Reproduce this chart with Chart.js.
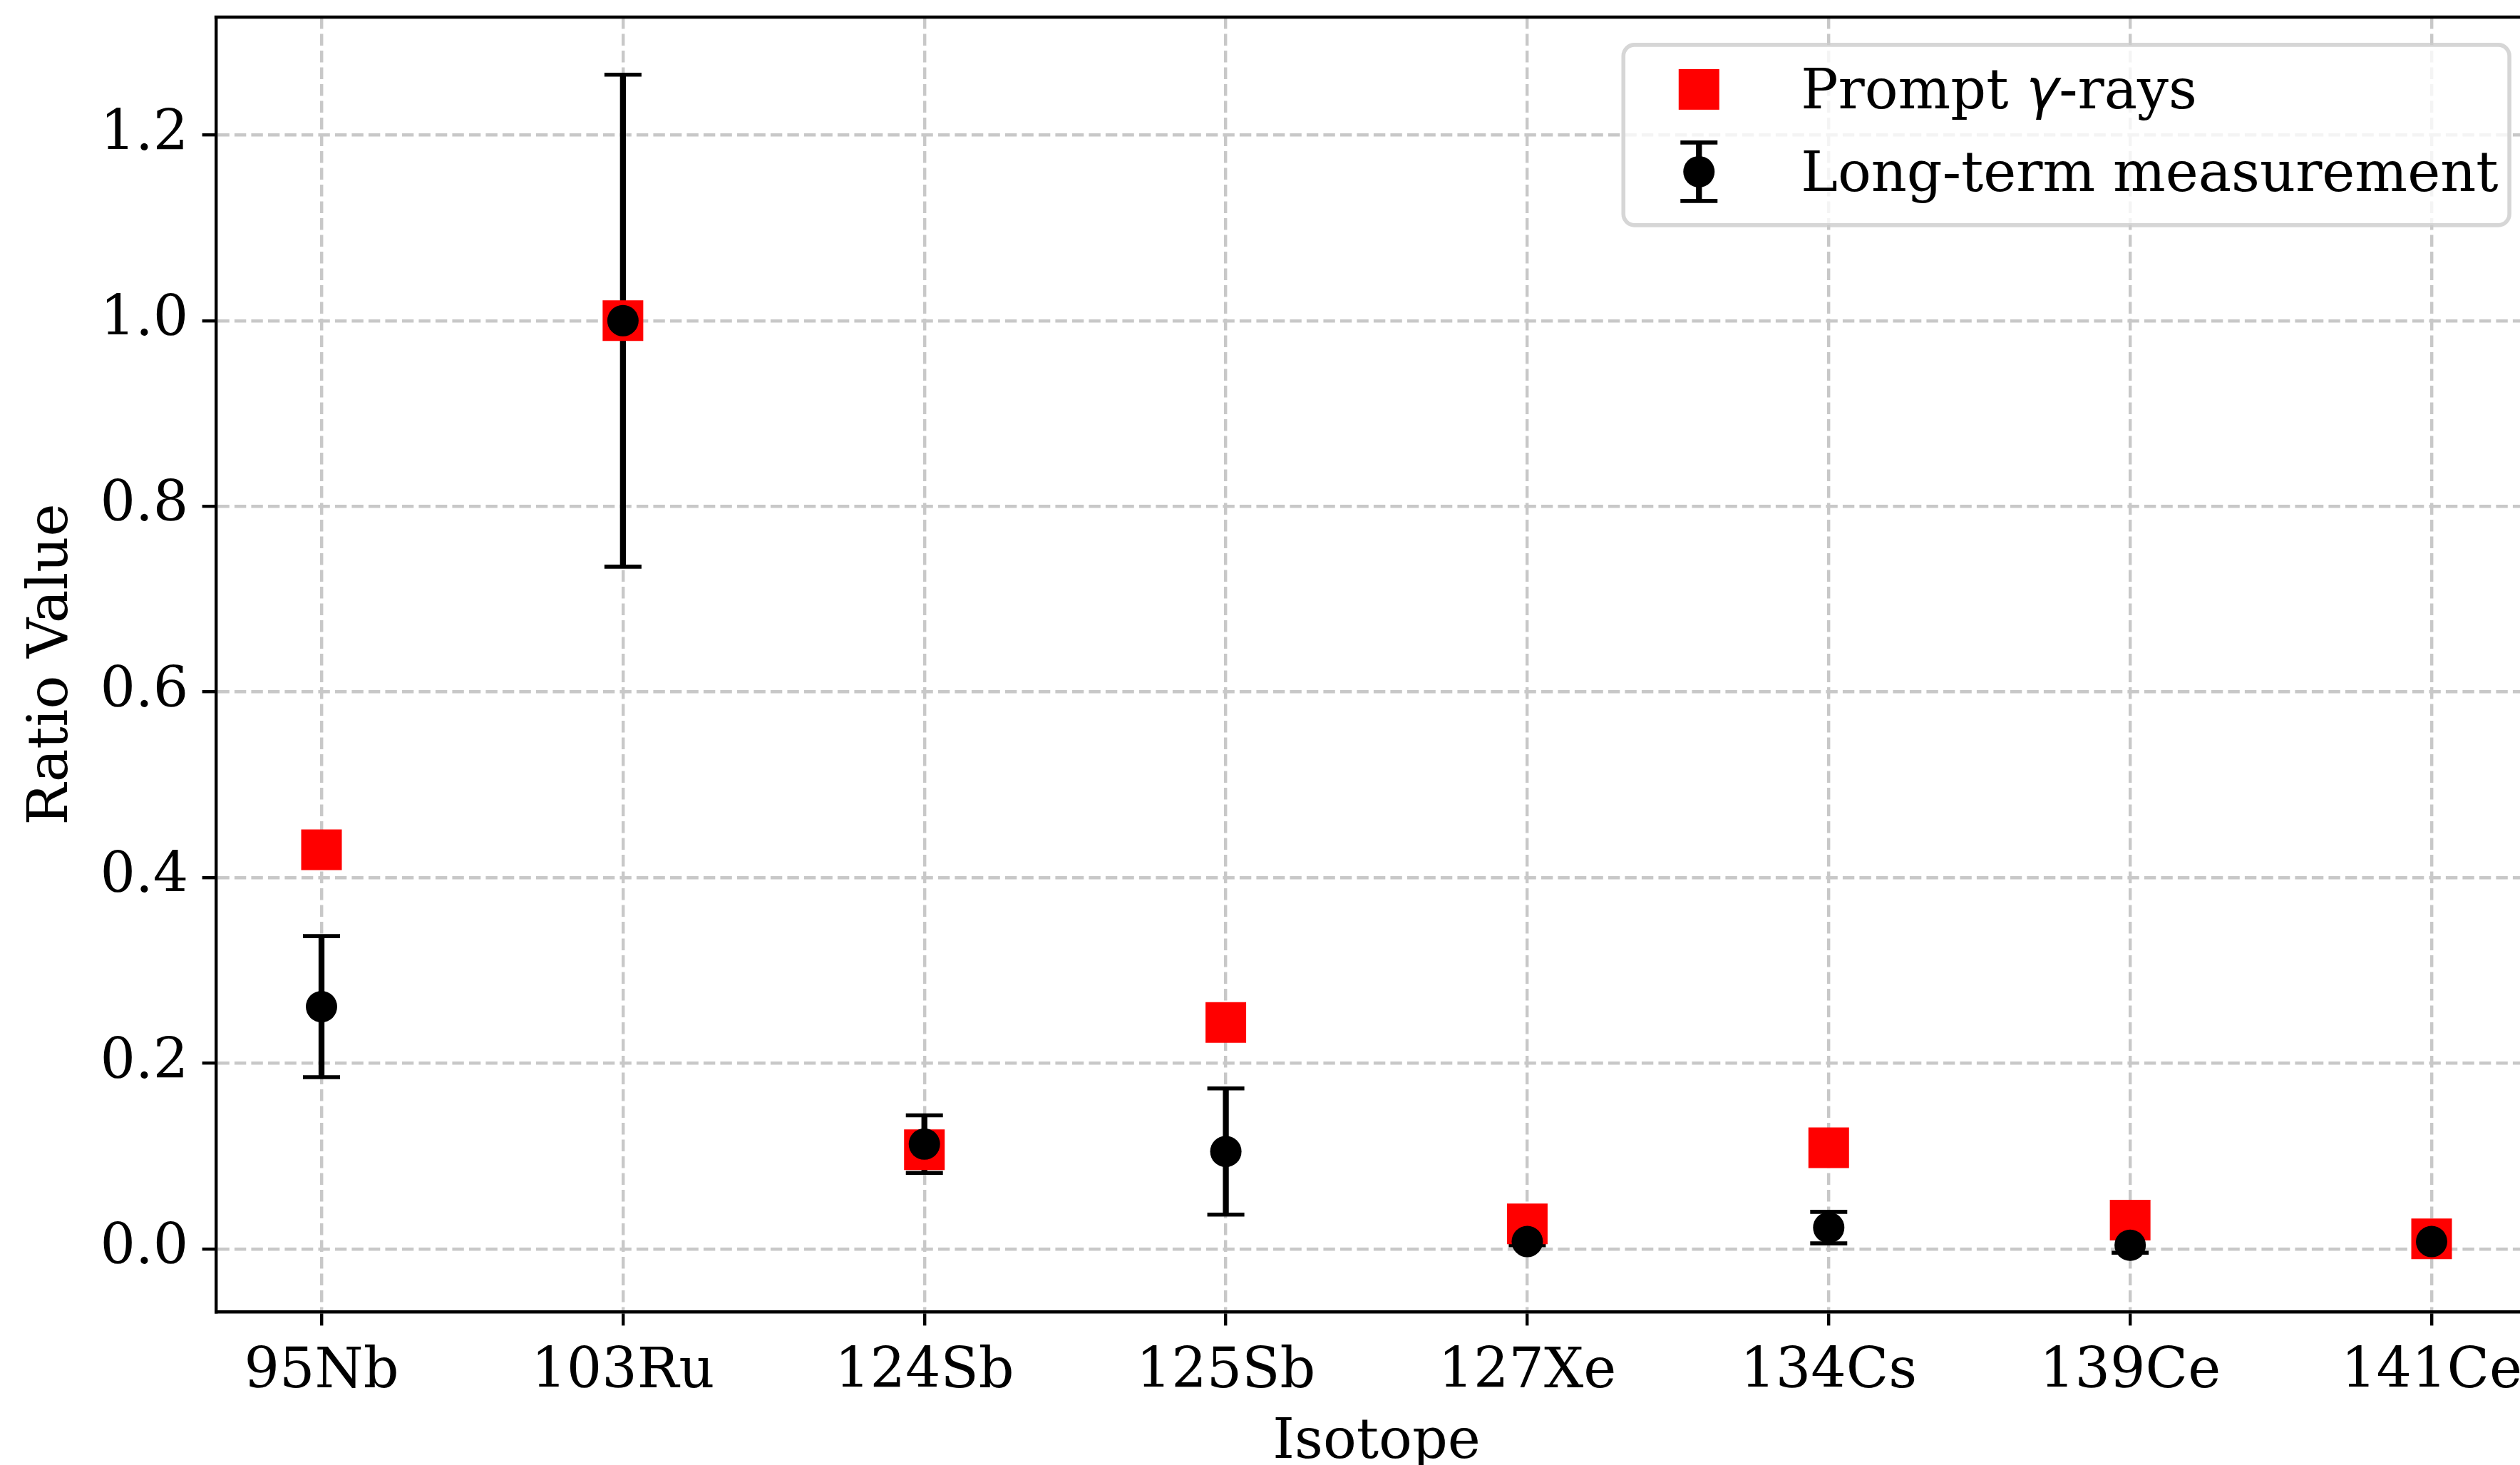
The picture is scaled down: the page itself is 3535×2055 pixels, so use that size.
<!DOCTYPE html>
<html>
<head>
<meta charset="utf-8">
<title>Isotope ratios</title>
<script src="https://cdn.jsdelivr.net/npm/chart.js@4.4.1/dist/chart.umd.min.js"></script>
<style>
  html, body { margin: 0; padding: 0; background: #fff; overflow: hidden; }
  canvas { display: block; }
</style>
</head>
<body>
<canvas class="my-chart" width="3600" height="2055"></canvas>
<script>
const myChart = document.querySelector(".my-chart");

// ratio values per isotope
const isotopes = ["95Nb", "103Ru", "124Sb", "125Sb", "127Xe", "134Cs", "139Ce", "141Ce"];
const promptValues = [0.43, 1.0, 0.107, 0.244, 0.027, 0.109, 0.031, 0.011];
const longTermValues = [0.261, 1.0, 0.113, 0.105, 0.008, 0.023, 0.004, 0.008];
const longTermErrors = [0.076, 0.265, 0.031, 0.068, 0.004, 0.017, 0.008, 0.006];
const yTicks = [0.0, 0.2, 0.4, 0.6, 0.8, 1.0, 1.2];

const FS = 77.8; // 14pt at 400 dpi
const LW = 4.4; // 0.8pt
const SERIF = "'DejaVu Serif', serif";

Chart.defaults.font.family = SERIF;
Chart.defaults.font.size = FS;
Chart.defaults.color = "#000";

//draws the error bars under the markers
const errorBars = {
  id: "errorBars",
  beforeDatasetsDraw(chart) {
    const { ctx, scales } = chart;
    ctx.save();
    ctx.strokeStyle = "#000";
    longTermValues.forEach((v, i) => {
      const px = scales.x.getPixelForValue(i);
      const top = scales.y.getPixelForValue(v + longTermErrors[i]);
      const bottom = scales.y.getPixelForValue(v - longTermErrors[i]);
      ctx.lineWidth = 8.3;
      ctx.beginPath();
      ctx.moveTo(px, top);
      ctx.lineTo(px, bottom);
      ctx.stroke();
      ctx.lineWidth = 5.6;
      ctx.beginPath();
      ctx.moveTo(px - 26, top);
      ctx.lineTo(px + 26, top);
      ctx.moveTo(px - 26, bottom);
      ctx.lineTo(px + 26, bottom);
      ctx.stroke();
    });
    ctx.restore();
  },
};

//top/right frame and the legend in the upper right corner
const frameAndLegend = {
  id: "frameAndLegend",
  afterDraw(chart) {
    const { ctx, chartArea } = chart;
    ctx.save();
    ctx.strokeStyle = "#000";
    ctx.lineWidth = LW;
    ctx.beginPath();
    ctx.moveTo(chartArea.left - LW / 2, chartArea.top);
    ctx.lineTo(chartArea.right, chartArea.top);
    ctx.lineTo(chartArea.right, chartArea.bottom);
    ctx.stroke();

    const labels = chart.data.datasets.map((d) => d.label);
    ctx.font = `${FS}px ${SERIF}`;
    const textW = Math.max(...labels.map((l) => ctx.measureText(l).width));
    const w = textW + 3.4 * FS;
    const h = 253;
    const right = chartArea.right - 0.5 * FS;
    const top = chartArea.top + 0.5 * FS;
    const left = right - w;

    ctx.beginPath();
    ctx.roundRect(left, top, w, h, 0.2 * FS);
    ctx.fillStyle = "rgba(255,255,255,0.8)";
    ctx.fill();
    ctx.strokeStyle = "rgba(204,204,204,0.8)";
    ctx.lineWidth = 5.6;
    ctx.stroke();

    const hx = left + 106;
    const tx = left + 3.2 * FS;

    // row 1: red square
    let ry = top + 62.5;
    ctx.fillStyle = "#ff0000";
    ctx.fillRect(hx - 28.5, ry - 28.5, 57, 57);
    drawLabel(ctx, labels[0], tx, ry + 27);

    // row 2: point with error bar
    ry += 115.5;
    ctx.strokeStyle = "#000";
    ctx.lineWidth = 8.3;
    ctx.beginPath();
    ctx.moveTo(hx, ry - 41);
    ctx.lineTo(hx, ry + 41);
    ctx.stroke();
    ctx.lineWidth = 5.6;
    ctx.beginPath();
    ctx.moveTo(hx - 26, ry - 41);
    ctx.lineTo(hx + 26, ry - 41);
    ctx.moveTo(hx - 26, ry + 41);
    ctx.lineTo(hx + 26, ry + 41);
    ctx.stroke();
    ctx.fillStyle = "#000";
    ctx.beginPath();
    ctx.arc(hx, ry, 22, 0, Math.PI * 2);
    ctx.fill();
    drawLabel(ctx, labels[1], tx, ry + 27);
    ctx.restore();
  },
};

// label text, with the greek letter set in italic
function drawLabel(ctx, text, x, baseline) {
  ctx.fillStyle = "#000";
  ctx.textBaseline = "alphabetic";
  ctx.textAlign = "left";
  const parts = text.split(/(γ)/);
  parts.forEach((p) => {
    ctx.font = p === "γ" ? `italic ${FS}px 'DejaVu Sans', sans-serif` : `${FS}px ${SERIF}`;
    ctx.fillText(p, x, baseline);
    x += ctx.measureText(p).width;
  });
}

const gridStyle = {
  color: "#c8c8c8",
  lineWidth: LW,
  tickLength: 19.4,
  tickColor: "#000",
  tickWidth: LW,
  tickBorderDash: [],
};

const mychart = new Chart(myChart, {
  type: "scatter",
  data: {
    datasets: [
      {
        label: "Prompt γ-rays",
        data: promptValues.map((v, i) => ({ x: i, y: v })),
        pointStyle: "rect",
        pointRadius: 40.3,
        backgroundColor: "#ff0000",
        borderWidth: 0,
        order: 2,
      },
      {
        label: "Long-term measurement",
        data: longTermValues.map((v, i) => ({ x: i, y: v })),
        pointStyle: "circle",
        pointRadius: 22,
        backgroundColor: "#000",
        borderWidth: 0,
        order: 1,
      },
    ],
  },
  options: {
    responsive: false,
    animation: false,
    devicePixelRatio: 1,
    events: [],
    layout: { autoPadding: false, padding: { top: 24, right: 41, left: 0, bottom: 0 } },
    plugins: {
      legend: { display: false },
      tooltip: { enabled: false },
    },
    scales: {
      x: {
        type: "linear",
        min: -0.35,
        max: isotopes.length - 1 + 0.35,
        afterBuildTicks: (scale) => {
          scale.ticks = isotopes.map((_, i) => ({ value: i }));
        },
        afterFit: (scale) => {
          scale.height = 215;
        },
        ticks: {
          callback: (v) => isotopes[v],
          autoSkip: false,
          maxRotation: 0,
          padding: 20,
        },
        grid: gridStyle,
        border: { color: "#000", width: LW, dash: [16.4, 7.1] },
        title: {
          display: true,
          text: "Isotope",
          font: { size: FS, lineHeight: 0.78 },
          padding: 0,
        },
      },
      y: {
        min: -0.0676,
        max: 1.327,
        afterBuildTicks: (scale) => {
          scale.ticks = yTicks.map((v) => ({ value: v }));
        },
        afterFit: (scale) => {
          scale.width = 303;
        },
        ticks: {
          callback: (v) => v.toFixed(1),
          padding: 19.4,
          font: { size: FS, lineHeight: 0.1 },
        },
        grid: gridStyle,
        border: { color: "#000", width: LW, dash: [16.4, 7.1] },
        title: {
          display: true,
          text: "Ratio Value",
          font: { size: FS, lineHeight: 1.2 },
          padding: { top: 27, bottom: 0 },
        },
      },
    },
  },
  plugins: [errorBars, frameAndLegend],
});
</script>
</body>
</html>
